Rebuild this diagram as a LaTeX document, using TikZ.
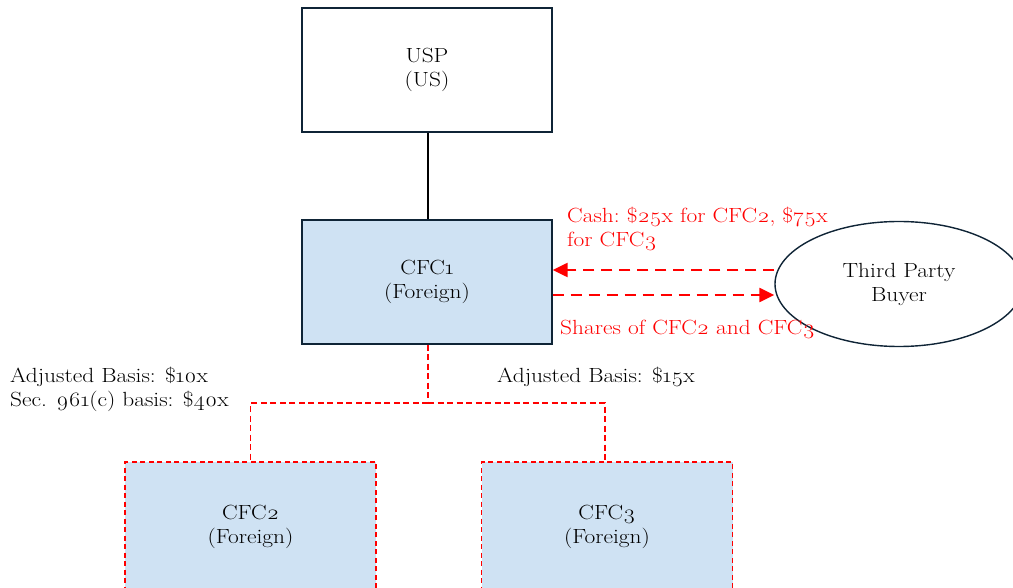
\documentclass[tikz,border=0pt]{standalone}
\usepackage{fontspec}
\setmainfont{Latin Modern Roman}[FakeStretch=1.14]
\usetikzlibrary{arrows.meta,shapes.geometric}
\definecolor{boxline}{HTML}{0F2436}
\definecolor{boxfill}{HTML}{CFE2F3}
\definecolor{flow}{HTML}{FF0000}
\newcommand{\os}[1]{\oldstylenums{#1}}
\tikzset{
  txt/.style={font=\fontsize{20.5}{24}\selectfont},
  entity/.style={txt, draw=boxline, line width=1.4pt, minimum width=250pt, minimum height=124pt,
    align=center, inner sep=0pt},
  foreign/.style={entity, fill=boxfill},
  sub/.style={txt, draw=flow, line width=1.2pt, dash pattern=on 5pt off 3.5pt, fill=boxfill,
    minimum width=251pt, minimum height=130pt, align=center, inner sep=0pt},
  own/.style={draw=black, line width=1.2pt},
  ownsub/.style={draw=flow, line width=1.4pt, dash pattern=on 6pt off 3.5pt},
  deal/.style={draw=flow, line width=2.4pt, dash pattern=on 11pt off 7pt,
    -{Triangle[length=15pt,width=14pt]}},
  note/.style={txt, align=left, inner sep=0pt, anchor=north west},
}
\begin{document}
\begin{tikzpicture}[x=1pt,y=-1pt]
  \useasboundingbox (0,0) rectangle (1013,588);
  % entities
  \node[entity]  (usp)   at (427,70)  {\fontsize{20.5}{27}\selectfont USP\\(US)};
  \node[foreign] (cfc1)  at (427,282) {CFC\os{1}\\(Foreign)};
  \node[txt, draw=boxline, line width=1.4pt, ellipse, minimum width=248pt, minimum height=125pt,
        align=center] (buyer) at (899,284) {\fontsize{20.5}{25}\selectfont Third Party\\Buyer};
  \node[sub] (cfc2) at (250.5,527) {CFC\os{2}\\(Foreign)};
  \node[sub] (cfc3) at (607,527)   {CFC\os{3}\\(Foreign)};
  % ownership
  \draw[own] (usp.south -| 428,0) -- (cfc1.north -| 428,0);
  \coordinate (split) at (428,403);
  \draw[ownsub] (cfc1.south -| split) -- (split);
  \draw[ownsub] (split) -| (cfc2.north);
  \draw[ownsub] (split) -| (605,462) coordinate (c3top);
  % sale
  \draw[deal] (buyer.west |- 0,270) -- (cfc1.east |- 0,270);
  \draw[deal] (cfc1.east |- 0,295) -- (buyer.west |- 0,295);
  % labels
  \node[note, text=flow] (cash) at (567,207) {Cash:~\$\os{25}x for CFC\os{2}, \$\os{75}x\\for CFC\os{3}};
  \node[note, text=flow] (shares) at (560,320) {Shares of CFC\os{2} and CFC\os{3}};
  \node[note] (basis2) at (10,367) {Adjusted Basis: \$\os{10}x\\Sec. \os{961}(c) basis: \$\os{40}x};
  \node[note] (basis3) at (497,367) {Adjusted Basis: \$\os{15}x};
\end{tikzpicture}
\end{document}
